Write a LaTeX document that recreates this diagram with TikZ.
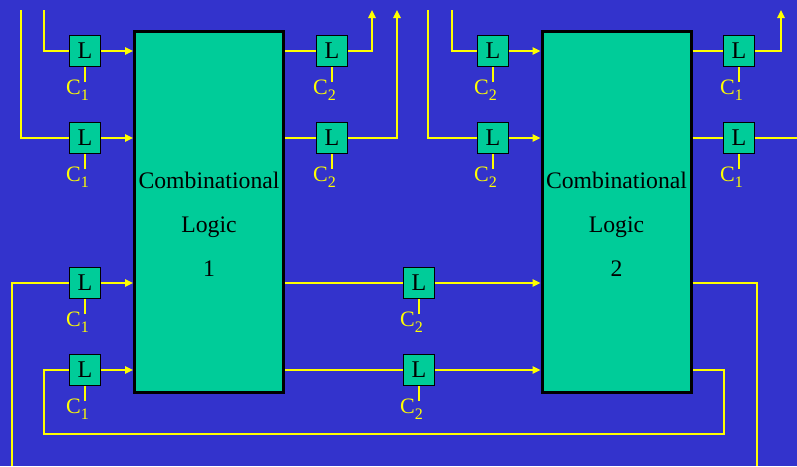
\documentclass[tikz,border=0pt]{standalone}
\usepackage{fontspec}
\setmainfont{Liberation Serif}
\usetikzlibrary{arrows.meta}
\definecolor{bgblue}{RGB}{51,51,204}
\definecolor{boxgreen}{RGB}{0,204,153}
\definecolor{wireyel}{RGB}{255,255,0}
\begin{document}
\begin{tikzpicture}[x=1pt,y=-1pt,
  latch/.style={draw=black, line width=1.2pt, fill=boxgreen, minimum size=30.5pt, inner sep=0pt, font=\fontsize{24}{24}\selectfont},
  block/.style={draw=black, line width=3pt, fill=boxgreen, minimum width=149pt, minimum height=361pt, inner sep=0pt},
  wire/.style={draw=wireyel, line width=1.4pt},
  arr/.style={wire, -{Triangle[length=8pt,width=7.5pt]}},
  clab/.style={anchor=base west, text=wireyel, inner sep=0pt, font=\fontsize{22}{22}\selectfont},
  btext/.style={anchor=base, inner sep=0pt, font=\fontsize{23.7}{24}\selectfont}
]
\fill[bgblue] (0,0) rectangle (797,466);
\useasboundingbox (0,0) rectangle (797,466);

% blocks
\node[block] (B1) at (209,212) {};
\node[block] (B2) at (616.5,212) {};
\node[btext] (t1a) at (209,188) {Combinational};
\node[btext] (t1b) at (209,232) {Logic};
\node[btext] (t1c) at (209,276) {1};
\node[btext] (t2a) at (616.5,188) {Combinational};
\node[btext] (t2b) at (616.5,232) {Logic};
\node[btext] (t2c) at (616.5,276) {2};

% latches
\node[latch] (LA1) at (85,51) {L};
\node[latch] (LA2) at (85,138) {L};
\node[latch] (LA3) at (85,283) {L};
\node[latch] (LA4) at (85,370) {L};
\node[latch] (LB1) at (332,51) {L};
\node[latch] (LB2) at (332,138) {L};
\node[latch] (LM3) at (419,283) {L};
\node[latch] (LM4) at (419,370) {L};
\node[latch] (LC1) at (493,51) {L};
\node[latch] (LC2) at (493,138) {L};
\node[latch] (LD1) at (739,51) {L};
\node[latch] (LD2) at (739,138) {L};

% clocks
\foreach \n/\s in {LA1/1,LA2/1,LA3/1,LA4/1,LB1/2,LB2/2,LM3/2,LM4/2,LC1/2,LC2/2,LD1/1,LD2/1}{
  \draw[wire] (\n.south) -- ++(0,15);
  \node[clab] (c\n) at ([shift={(-19,43)}]\n.center) {C\raisebox{-6pt}{\fontsize{16}{16}\selectfont\s}};
}

% coordinates
\coordinate (inA1) at (44,10);
\coordinate (inA2) at (21,10);
\coordinate (inA3) at (12,466);
\coordinate (inC1) at (452,10);
\coordinate (inC2) at (428,10);
\coordinate (outB1) at (372,10);
\coordinate (outB2) at (397,10);
\coordinate (outD1) at (781,10);
\coordinate (outD2) at (797,138);
\coordinate (outD3) at (757,466);
\coordinate (fb1) at (44,434);
\coordinate (fb2) at (724,434);

% block 1 inputs
\draw[wire] (inA1) |- (LA1.west);
\draw[wire] (inA2) |- (LA2.west);
\draw[wire] (inA3) |- (LA3.west);
\draw[wire] (LA4.west) -| (fb1) -| (fb2) |- (B2.east |- LA4);
\foreach \n in {LA1,LA2,LA3,LA4}{
  \draw[arr] (\n.east) -- (B1.west |- \n);
}
% block 1 outputs
\draw[wire] (B1.east |- LB1) -- (LB1.west);
\draw[arr] (LB1.east) -| (outB1);
\draw[wire] (B1.east |- LB2) -- (LB2.west);
\draw[arr] (LB2.east) -| (outB2);
\draw[wire] (B1.east |- LM3) -- (LM3.west);
\draw[wire] (B1.east |- LM4) -- (LM4.west);
\draw[arr] (LM3.east) -- (B2.west |- LM3);
\draw[arr] (LM4.east) -- (B2.west |- LM4);
% block 2 inputs
\draw[wire] (inC1) |- (LC1.west);
\draw[wire] (inC2) |- (LC2.west);
\draw[arr] (LC1.east) -- (B2.west |- LC1);
\draw[arr] (LC2.east) -- (B2.west |- LC2);
% block 2 outputs
\draw[wire] (B2.east |- LD1) -- (LD1.west);
\draw[arr] (LD1.east) -| (outD1);
\draw[wire] (B2.east |- LD2) -- (LD2.west);
\draw[wire] (LD2.east) -- (outD2);
\draw[wire] (B2.east |- LM3) -| (outD3);
\end{tikzpicture}
\end{document}
